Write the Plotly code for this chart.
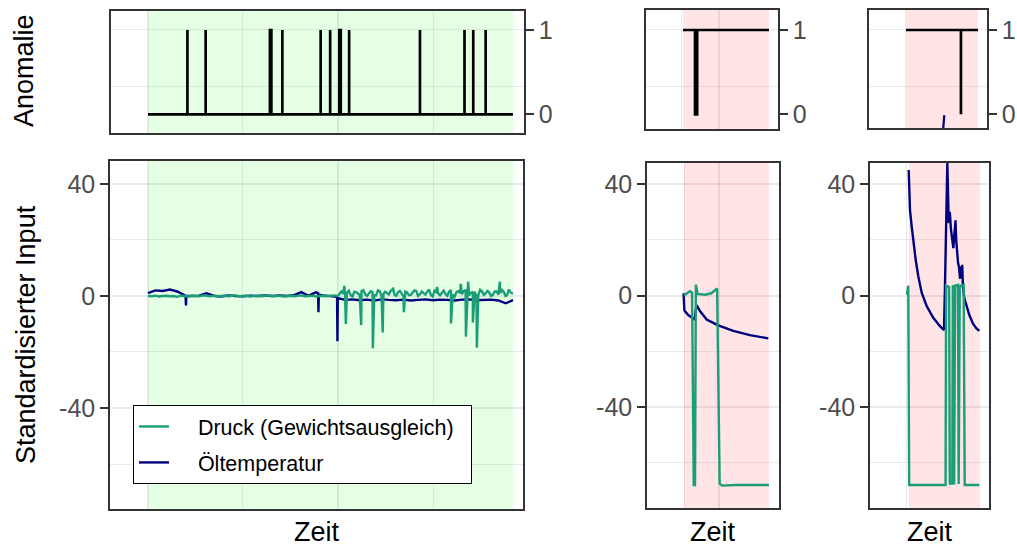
import plotly.graph_objects as go

W, H = 1017, 548
FONT = "Liberation Sans, Arial, sans-serif"
GREEN = "#1B9E77"
NAVY = "#000080"
GRID = "rgba(0,0,0,0.08)"
BORDER = "#333333"
TICKCOL = "#4D4D4D"

# ---------------- data ----------------
# Left column: normal operation (time index 0..1000)
left_time = list(range(0, 1001, 10))
left_druck_base = [
    0.0, -0.1, 0.1, -0.2, 0.0, 0.1, -0.1, 0.0, -0.3, 0.1,
    0.0, -0.2, 0.1, 0.0, -0.1, 0.2, 0.0, -0.1, 0.1, -0.2,
    0.0, 0.1, -0.1, 0.0, 0.2, -0.1, 0.0, 0.1, -0.2, 0.0,
    0.1, -0.1, 0.0, 0.2, -0.1, 0.0, 0.1, -0.2, 0.0, 0.1,
    -0.1, 0.0, 0.2, -0.1, 0.0, 0.1, -0.2, 0.0, 0.1, -0.1,
    0.0, 0.2, 0.0,
    1.6, 0.2, 1.9, -0.3, 1.4, 0.5, 2.1, 0.0, 1.7, 0.3,
    2.0, -0.2, 1.5, 0.6, 2.2, 0.1, 1.8, -0.1, 1.3, 0.4,
    2.0, 0.0, 1.6, 0.5, 2.3, -0.2, 1.4, 0.3, 1.9, 0.1,
    2.1, -0.3, 1.7, 0.6, 2.0, 0.2, 1.5, -0.1, 2.2, 0.4,
    1.8, 0.0, 1.6, 0.5, 2.1, -0.2, 1.9, 0.8,
]
# extra readings inside the noisy second half (between the regular samples)
left_druck_band_t = list(range(535, 1000, 10))
left_druck_band_y = [
    0.8, 1.2, 0.4, 1.5, 0.9, 1.8, 0.6, 1.1, 1.4, 0.2,
    1.7, 0.7, 1.0, 1.9, 0.5, 1.3, 0.8, 1.6, 0.3, 1.2,
    1.8, 0.6, 1.0, 1.5, 0.4, 1.9, 0.9, 1.2, 0.7, 1.6,
    0.5, 1.4, 1.0, 1.8, 0.6, 1.1, 1.5, 0.3, 1.7, 0.9,
    1.2, 0.5, 1.6, 1.0, 1.4, 0.7, 1.1,
]
left_druck_spike_t = [538, 542, 584, 616, 643, 671, 701, 792, 830, 857, 871, 877, 890, 901, 964, 989]
left_druck_spike_y = [3.6, -10.0, -10.4, -18.7, -13.0, 3.0, -5.8, 3.2, -9.8, 4.3, -14.5, 5.1, -9.5, -18.5, 5.1, 2.4]

left_oel_time = list(range(0, 1001, 20))
left_oel_base = [
    1.0, 2.0, 1.8, 2.3, 1.6, 0.2, 0.0, 0.1, 1.0, 0.1,
    -0.2, 0.2, 0.0, -0.1, 0.1, 0.0, 0.2, 0.0, 0.2, 0.0,
    0.3, 1.4, 0.1, 1.3, 0.2, 0.0, -0.6, -1.4, -1.2, -1.5,
    -1.3, -1.6, -1.2, -1.4, -1.5, -1.3, -1.6, -1.4, -1.2, -1.5,
    -1.3, -1.4, -1.6, -1.3, -1.2, -1.5, -1.4, -1.3, -1.6, -2.6,
    -1.5,
]
left_oel_spike_t = [103, 104, 105, 466, 467, 468, 518, 519, 521]
left_oel_spike_y = [0.1, -3.4, 0.1, 1.0, -5.8, 0.5, -0.3, -16.2, -0.8]

left_anom_start = [108, 158, 334, 368, 473, 499, 524, 551, 745, 867, 891, 925]
left_anom_width = [0, 0, 4, 0, 0, 0, 4, 0, 0, 0, 0, 0]
left_t_end = 1000

# Middle column: anomalous episode 1 (time index 0..100)
mid_druck_t = [0, 7, 9.5, 11.5, 13, 14, 16, 25, 32, 39, 42, 45, 60, 80, 100]
mid_druck_y = [0.0, 1.5, 1.0, -68.0, -68.0, 3.9, 0.6, 0.3, 0.8, 2.5, -67.5, -68.2, -68.0, -68.1, -68.0]
mid_oel_t = [-0.5, 0.5, 5, 11, 12.5, 14.5, 15.6, 18.8, 26.7, 39.6, 58, 77.6, 99.2]
mid_oel_y = [0.8, -5.4, -7.0, -8.3, -8.6, -4.0, -3.8, -5.6, -8.6, -10.6, -12.7, -14.2, -15.4]
mid_anom_start = [14.0]
mid_anom_width = [2.5]

# Right column: anomalous episode 2 (time index 0..100)
right_druck_t = [-3, -1, 0.3, 51.5, 52.3, 56.5, 57.5, 61, 61.8, 63, 63.6, 65, 69, 70, 71.5, 77, 78.5, 99]
right_druck_y = [0.3, 3.5, -68.0, -68.0, 3.5, 3.0, -67.5, -67.5, 3.6, 3.2, -67.8, 3.5, 3.8, -67.6, 3.4, 3.9, -68.0, -68.0]
right_oel_t = [-0.4, 0.4, 1.4, 3.8, 6.1, 9.4, 13.1, 17.9, 24.9, 34.2, 43.7, 49.3, 50.7, 52.1, 54,
               56, 57.5, 59, 61, 62.5, 64, 65.5, 66.5, 67.5, 69, 70.5, 72, 73, 74, 75, 76, 78, 81, 85, 90, 95, 99]
right_oel_y = [45.0, 36.7, 30.7, 24.8, 18.8, 12.9, 6.9, 1.0, -3.8, -8.0, -11.0, -12.4, 3.3, 24.8, 47.5,
               26.0, 30.0, 24.0, 20.0, 17.0, 22.0, 27.0, 20.0, 15.0, 12.0, 10.0, 6.0, 10.5, 8.0, 11.0, 3.0,
               -1.0, -4.0, -7.0, -10.0, -11.8, -12.7]
right_anom_start = [76.3]
right_anom_width = [0.0]
right_anom_oel_t = [50.4, 53.2]
right_anom_oel_y = [-0.3, -0.01]

LEGEND_DRUCK = "Druck (Gewichtsausgleich)"
LEGEND_OEL = "Öltemperatur"
PAD = "\u00a0\u00a0\u00a0\u00a0"
TAIL = "\u00a0\u00a0"


def merged(tb, yb, ts, ys):
    pts = sorted(zip(list(tb) + list(ts), list(yb) + list(ys)), key=lambda p: p[0])
    return [p[0] for p in pts], [p[1] for p in pts]


def step_series(starts, widths, t0, t1, base, level):
    t, y = [t0], [base]
    for s, w in zip(starts, widths):
        t += [s, s, s + w, s + w]
        y += [base, level, level, base]
    t.append(t1)
    y.append(base)
    return t, y


# ---------------- geometry (pixels) ----------------
def xd(a, b):
    return [a / W, b / W]


def yd(top, bottom):
    return [1 - bottom / H, 1 - top / H]


panels = {
    "TL": ((110.5, 524), (11, 132.7), [-102.7, 1030], [-0.218, 1.225]),
    "TM": ((646, 778), (10, 129), [-43, 110.5], [-0.174, 1.237]),
    "TR": ((869, 987), (10, 128.3), [-51.4, 112.5], [-0.166, 1.237]),
    "BL": ((110, 523), (161, 509), [-104.1, 1027.4], [-76.07, 48.2]),
    "BM": ((647, 779), (163, 508), [-43.5, 111.8], [-76.23, 47.53]),
    "BR": ((870, 989), (163, 508), [-54.9, 112.7], [-76.23, 47.53]),
}
order = ["TL", "TM", "TR", "BL", "BM", "BR"]
axid = {n: i + 1 for i, n in enumerate(order)}
xgrid = {
    "TL": ([0, 521], [260, 781]), "BL": ([0, 521], [260, 781]),
    "TM": ([42.2], [-1.5]), "BM": ([41.2], [0.4]),
    "TR": ([], [-1.4]), "BR": ([], [-3.3]),
}

fig = go.Figure()


def ref(n):
    i = axid[n]
    return ("x" if i == 1 else f"x{i}"), ("y" if i == 1 else f"y{i}")


def add_line(n, t, y, color, width, name=None, show=False, rank=None):
    xr, yr = ref(n)
    fig.add_trace(go.Scatter(
        x=t, y=y, mode="lines", xaxis=xr, yaxis=yr,
        line=dict(color=color, width=width),
        name=name, showlegend=show, legendrank=rank if rank else 1000,
        legendgroup=name, hoverinfo="skip",
    ))


# top panels: anomaly indicator
t, y = step_series(left_anom_start, left_anom_width, 0, left_t_end, 0, 1)
add_line("TL", t, y, "black", 2.7)
t, y = step_series(mid_anom_start, mid_anom_width, 0, 100, 1, 0)
add_line("TM", t, y, "black", 2.7)
add_line("TR", right_anom_oel_t, right_anom_oel_y, NAVY, 2.2)
t, y = step_series(right_anom_start, right_anom_width, 0, 100, 1, 0)
add_line("TR", t, y, "black", 2.7)

# bottom panels: standardized inputs
t, y = merged(left_oel_time, left_oel_base, left_oel_spike_t, left_oel_spike_y)
add_line("BL", t, y, NAVY, 2.4, PAD + LEGEND_OEL + TAIL, True, 2)
t, y = merged(left_time, left_druck_base, left_druck_band_t, left_druck_band_y)
t, y = merged(t, y, left_druck_spike_t, left_druck_spike_y)
add_line("BL", t, y, GREEN, 2.4, PAD + LEGEND_DRUCK + TAIL, True, 1)
add_line("BM", mid_oel_t, mid_oel_y, NAVY, 2.4)
add_line("BM", mid_druck_t, mid_druck_y, GREEN, 2.4)
add_line("BR", right_oel_t, right_oel_y, NAVY, 2.4)
add_line("BR", right_druck_t, right_druck_y, GREEN, 2.4)

layout = dict(
    width=W, height=H, margin=dict(l=0, r=0, t=0, b=0, autoexpand=False),
    paper_bgcolor="white", plot_bgcolor="white",
    font=dict(family=FONT, color="black"),
    showlegend=True,
    legend=dict(
        x=133 / W, y=1 - 405 / H, xanchor="left", yanchor="top",
        bgcolor="white", bordercolor="black", borderwidth=1,
        font=dict(size=21.5, color="black", family=FONT),
        traceorder="grouped", tracegroupgap=5, itemwidth=30,
    ),
    shapes=[], annotations=[],
)

for n in order:
    i = axid[n]
    (xa, xb), (ya, yb), xrng, yrng = panels[n]
    xk = "xaxis" if i == 1 else f"xaxis{i}"
    yk = "yaxis" if i == 1 else f"yaxis{i}"
    xr, yr = ref(n)
    major, minor = xgrid[n]
    layout[xk] = dict(
        domain=xd(xa, xb), range=xrng, anchor=yr, automargin=False,
        showticklabels=False, ticks="", zeroline=False,
        showline=True, mirror=True, linecolor=BORDER, linewidth=1.5,
        tickmode="array", tickvals=major, showgrid=True, gridcolor=GRID, gridwidth=1.5,
        minor=dict(tickmode="array", tickvals=minor, showgrid=True, gridcolor=GRID, gridwidth=0.8, ticks=""),
    )
    if n.startswith("T"):
        layout[yk] = dict(
            domain=yd(ya, yb), range=yrng, anchor=xr, side="right", automargin=False,
            tickmode="array", tickvals=[0, 1], ticktext=["0", "1"],
            ticks="outside", ticklen=8, tickwidth=1.8, tickcolor=BORDER,
            tickfont=dict(size=25, color=TICKCOL, family=FONT),
            showgrid=False, zeroline=False,
            showline=True, mirror=True, linecolor=BORDER, linewidth=1.5,
            minor=dict(tickmode="array", tickvals=[1 / 3, 1], showgrid=True, gridcolor=GRID, gridwidth=1.2, ticks=""),
        )
    else:
        layout[yk] = dict(
            domain=yd(ya, yb), range=yrng, anchor=xr, automargin=False,
            tickmode="array", tickvals=[-40, 0, 40], ticktext=["-40", "0", "40"],
            ticks="outside", ticklen=8, tickwidth=1.8, tickcolor=BORDER,
            tickfont=dict(size=25, color=TICKCOL, family=FONT),
            showgrid=True, gridcolor=GRID, gridwidth=1.5, zeroline=False,
            showline=True, mirror=True, linecolor=BORDER, linewidth=1.5,
            minor=dict(tickmode="array", tickvals=[-60, -20, 20], showgrid=True, gridcolor=GRID, gridwidth=0.8, ticks=""),
        )
    fill = "rgba(0,255,0,0.1)" if n.endswith("L") else "rgba(255,0,0,0.1)"
    t_end = left_t_end if n.endswith("L") else 100
    layout["shapes"].append(dict(
        type="rect", xref=xr, yref="paper", x0=0, x1=t_end, y0=1 - yb / H, y1=1 - ya / H,
        fillcolor=fill, line=dict(width=0), layer="below",
    ))

ann = layout["annotations"]
tfont = dict(size=27, color="black", family=FONT)
ann.append(dict(text="Anomalie", x=24 / W, y=1 - 71 / H, xref="paper", yref="paper",
                xanchor="center", yanchor="middle", textangle=-90, showarrow=False, font=tfont))
ann.append(dict(text="Standardisierter Input", x=26 / W, y=1 - 335 / H, xref="paper", yref="paper",
                xanchor="center", yanchor="middle", textangle=-90, showarrow=False, font=tfont))
for cx in (316.5, 713, 929.5):
    ann.append(dict(text="Zeit", x=cx / W, y=1 - 532 / H, xref="paper", yref="paper",
                    xanchor="center", yanchor="middle", showarrow=False, font=tfont))

fig.update_layout(**layout)
fig.write_html(
    "out.html",
    config={"displayModeBar": False},
    post_script="document.body.style.margin='0';document.body.style.padding='0';document.body.style.overflow='hidden';",
)
